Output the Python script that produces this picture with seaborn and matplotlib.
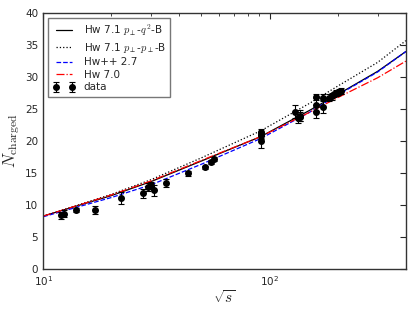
import numpy as np
import pandas as pd
import matplotlib
matplotlib.use("Agg")
import matplotlib.pyplot as plt
import seaborn as sns

# ---- data ----
curve_x = [10, 20, 30, 50, 91.2, 150, 200, 300, 400]
hw71_q2 = [8.3, 11.5, 13.7, 16.9, 20.7, 24.8, 27.3, 30.9, 34.0]
hw71_pp = [8.3, 11.7, 14.0, 17.4, 21.6, 25.9, 28.6, 32.3, 35.7]
hwpp27 = [8.2, 11.2, 13.2, 16.4, 20.4, 24.5, 27.2, 30.8, 34.0]
hw70 = [8.3, 11.6, 13.8, 17.0, 20.7, 24.5, 26.8, 29.9, 32.5]

data_x = [12.0, 12.4, 14.0, 17.0, 22.0, 27.6, 29.0, 30.0, 30.8, 34.8, 43.6,
          52.0, 55.0, 57.0, 91.2, 91.2, 91.2, 91.2, 130, 133, 136, 136,
          161, 161, 161, 172, 172, 183, 189, 192, 196, 200, 202, 206]
data_y = [8.4, 8.7, 9.3, 9.3, 11.1, 11.9, 12.8, 13.1, 12.3, 13.5, 15.0,
          15.9, 16.8, 17.2, 20.1, 20.9, 21.0, 21.4, 24.6, 23.6, 24.0, 23.8,
          24.5, 25.7, 26.9, 25.4, 26.8, 26.8, 27.0, 27.3, 27.5, 27.6, 27.7, 27.8]
data_err = [0.6, 0.5, 0.3, 0.6, 0.9, 0.7, 0.6, 0.5, 0.8, 0.6, 0.4,
            0.2, 0.3, 0.3, 1.1, 0.5, 0.5, 0.5, 1.0, 0.7, 0.8, 0.7,
            0.9, 1.0, 0.5, 1.0, 0.6, 0.6, 0.5, 0.4, 0.5, 0.4, 0.4, 0.5]

labels = [r"Hw 7.1 $p_\perp$-$q^2$-B", r"Hw 7.1 $p_\perp$-$p_\perp$-B",
          "Hw++ 2.7", "Hw 7.0"]

sns.set_style("white")
plt.rcParams["font.family"] = ["DejaVu Sans"]
plt.rcParams["mathtext.fontset"] = "cm"

fig = plt.figure(figsize=(4.15, 3.12), dpi=100)
ax = fig.add_axes([0.104, 0.137, 0.874, 0.821])

styles = [("black", "-"), ("black", ":"), ("blue", "--"), ("red", "-.")]
for ys, lab, (c, ls) in zip([hw71_q2, hw71_pp, hwpp27, hw70], labels, styles):
    df = pd.DataFrame({"x": curve_x, "y": ys})
    sns.lineplot(data=df, x="x", y="y", ax=ax, color=c, linestyle=ls,
                 linewidth=0.9, label=lab)

ax.errorbar(data_x, data_y, yerr=data_err, fmt="o", color="black",
            markersize=4, capsize=2, elinewidth=0.8, capthick=0.8, label="data")

ax.set_xscale("log")
ax.set_xlim(10, 400)
ax.set_ylim(0, 40)
ax.set_xlabel(r"$\sqrt{s}$", fontsize=11, labelpad=1)
ax.set_ylabel(r"$N_{\rm charged}$", fontsize=12, labelpad=2)
ax.tick_params(axis="both", which="both", direction="in", top=True, right=True,
               labelsize=7.5, length=4)
ax.tick_params(which="minor", length=2)
for s in ax.spines.values():
    s.set_color("#333333")
    s.set_linewidth(1.0)

leg = ax.legend(loc="upper left", fontsize=7.5, frameon=True, fancybox=False,
                handlelength=2.2, borderpad=0.4, labelspacing=0.25, numpoints=2)
leg.get_frame().set_edgecolor("#555555")
leg.get_frame().set_linewidth(1.0)

fig.savefig("out.png", dpi=100)
